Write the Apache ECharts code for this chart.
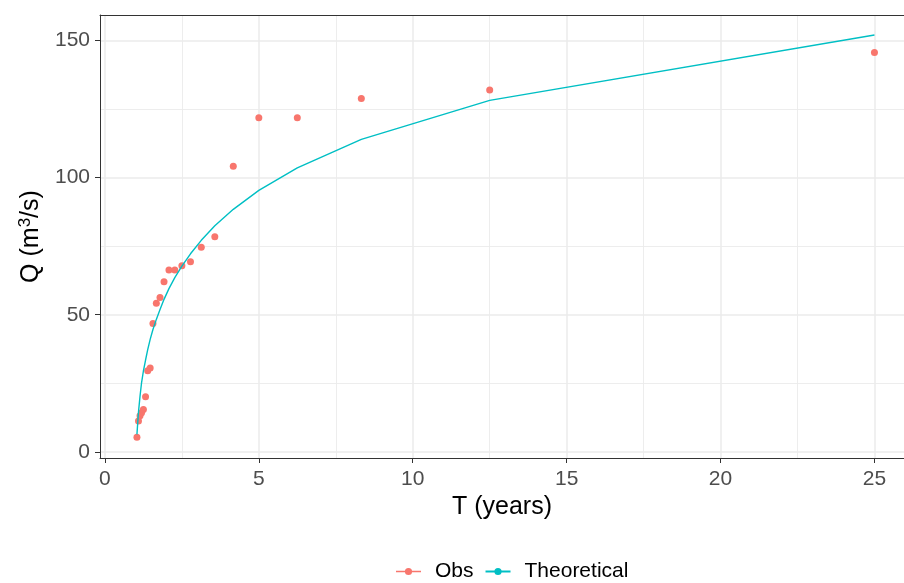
<!DOCTYPE html>
<html>
<head>
<meta charset="utf-8">
<script src="https://cdn.jsdelivr.net/npm/echarts@6.0.0/dist/echarts.min.js"></script>
<style>
  html, body { margin: 0; padding: 0; background: #ffffff; }
  #chart { width: 904px; height: 583px; }
</style>
</head>
<body>
<div id="chart"></div>
<script>
// Return period T (years) for each ranked flow
const returnPeriods = [1.04, 1.09, 1.14, 1.19, 1.25, 1.32, 1.39, 1.47, 1.56, 1.67, 1.79, 1.92,
                       2.08, 2.27, 2.50, 2.78, 3.13, 3.57, 4.17, 5.00, 6.25, 8.33, 12.50, 25.00];
// Observed peak flows (m3/s)
const observedQ = [5.4, 11.3, 13.2, 14.3, 15.5, 20.1, 29.6, 30.6, 46.8, 54.2, 56.3, 62.0,
                   66.3, 66.3, 67.8, 69.3, 74.6, 78.4, 104.1, 121.8, 121.8, 128.8, 131.9, 145.5];
// Fitted distribution flows at the same return periods (m3/s)
const theoreticalQ = [6.4, 14.5, 20.3, 25.2, 29.5, 33.5, 37.3, 41.0, 44.6, 48.3, 51.9, 55.6,
                      59.5, 63.5, 67.7, 72.2, 77.1, 82.4, 88.4, 95.3, 103.5, 113.9, 128.1, 151.9];

// Axis breaks
const xMajorTicks = [0, 5, 10, 15, 20, 25];
const xMinorTicks = [2.5, 7.5, 12.5, 17.5, 22.5];
const yMajorTicks = [0, 50, 100, 150];
const yMinorTicks = [25, 75, 125];

const FONT = "'Liberation Sans', Arial, sans-serif";
const OBS_COLOR = '#F8766D';
const THEO_COLOR = '#00BFC4';
const GRID_COLOR = '#EBEBEB';
const BORDER_COLOR = '#333333';

// The panel runs past the right edge of the canvas, so the x range ends before its expanded limit
const X_MIN = -0.16, X_MAX = 25.96;
const Y_MIN = -2.2, Y_MAX = 159.2;

const obsData = returnPeriods.map((t, i) => [t, observedQ[i]]);
const theoData = returnPeriods.map((t, i) => [t, theoreticalQ[i]]);

// Legend key: short line with a dot in the middle (corner specks fix the box to 25x9)
const keyIcon = 'path://M0,0H0.01V0.01H0Z M24.99,8.99H25V9H24.99Z M0,3.8H25V5.2H0Z ' +
                'M8.9,4.5A3.6,3.6 0 1,1 16.1,4.5A3.6,3.6 0 1,1 8.9,4.5Z';

const chart = echarts.init(document.getElementById('chart'), null, { renderer: 'canvas' });

chart.setOption({
  animation: false,
  backgroundColor: '#ffffff',
  textStyle: { fontFamily: FONT },
  grid: {
    left: 100, top: 15, width: 804, height: 443,
    show: false,
    containLabel: false
  },
  legend: {
    top: 556, left: 391,
    itemWidth: 25, itemHeight: 9, itemGap: 11,
    textStyle: { fontFamily: FONT, fontSize: 21, color: '#000000', padding: [0, 0, 0, 9] },
    data: [
      { name: 'Obs', icon: keyIcon },
      { name: 'Theoretical' }
    ]
  },
  xAxis: [
    {
      type: 'value', min: X_MIN, max: X_MAX, position: 'bottom',
      name: 'T (years)', nameLocation: 'middle', nameGap: 36,
      nameTextStyle: { fontFamily: FONT, fontSize: 25, color: '#000000' },
      axisLine: { show: true, onZero: false, lineStyle: { color: BORDER_COLOR, width: 1 } },
      axisTick: { show: true, length: 5, lineStyle: { color: BORDER_COLOR, width: 1 }, customValues: xMajorTicks },
      axisLabel: { margin: 11, fontSize: 21, color: '#4D4D4D', fontFamily: FONT, customValues: xMajorTicks },
      splitLine: { show: true, lineStyle: { color: GRID_COLOR, width: 1.5 } }
    },
    {
      // minor grid lines, with the top edge of the panel border
      type: 'value', min: X_MIN, max: X_MAX, gridIndex: 0, position: 'top',
      axisLine: { show: true, onZero: false, lineStyle: { color: BORDER_COLOR, width: 1 } },
      axisLabel: { show: false },
      axisTick: { show: false, customValues: xMinorTicks },
      splitLine: { show: true, lineStyle: { color: GRID_COLOR, width: 0.9 } }
    }
  ],
  yAxis: [
    {
      type: 'value', min: Y_MIN, max: Y_MAX, position: 'left',
      name: '{t|Q (m}{sup|3}{t|/s)}', nameLocation: 'middle', nameGap: 52, nameRotate: 90,
      nameTextStyle: {
        fontFamily: FONT, fontSize: 25, color: '#000000',
        rich: {
          t: { fontFamily: FONT, fontSize: 25, color: '#000000' },
          sup: { fontFamily: FONT, fontSize: 17, color: '#000000', padding: [0, 0, 12, 0], verticalAlign: 'bottom' }
        }
      },
      axisLine: { show: true, onZero: false, lineStyle: { color: BORDER_COLOR, width: 1 } },
      axisTick: { show: true, length: 5, lineStyle: { color: BORDER_COLOR, width: 1 }, customValues: yMajorTicks },
      axisLabel: { margin: 10, fontSize: 21, color: '#4D4D4D', fontFamily: FONT, customValues: yMajorTicks },
      splitLine: { show: true, lineStyle: { color: GRID_COLOR, width: 1.5 } }
    },
    {
      // minor grid lines
      type: 'value', min: Y_MIN, max: Y_MAX, gridIndex: 0, position: 'right',
      axisLine: { show: false },
      axisLabel: { show: false },
      axisTick: { show: false, customValues: yMinorTicks },
      splitLine: { show: true, lineStyle: { color: GRID_COLOR, width: 0.9 } }
    }
  ],
  series: [
    {
      name: 'Obs', type: 'scatter',
      xAxisIndex: 0, yAxisIndex: 0,
      data: obsData,
      symbol: 'circle', symbolSize: 7,
      itemStyle: { color: OBS_COLOR, opacity: 1 },
      z: 2
    },
    {
      name: 'Theoretical', type: 'line',
      xAxisIndex: 0, yAxisIndex: 0,
      data: theoData,
      symbol: 'circle', showSymbol: false, symbolSize: 7,
      itemStyle: { color: THEO_COLOR },
      lineStyle: { color: THEO_COLOR, width: 1.4 },
      z: 3
    }
  ]
});
</script>
</body>
</html>
